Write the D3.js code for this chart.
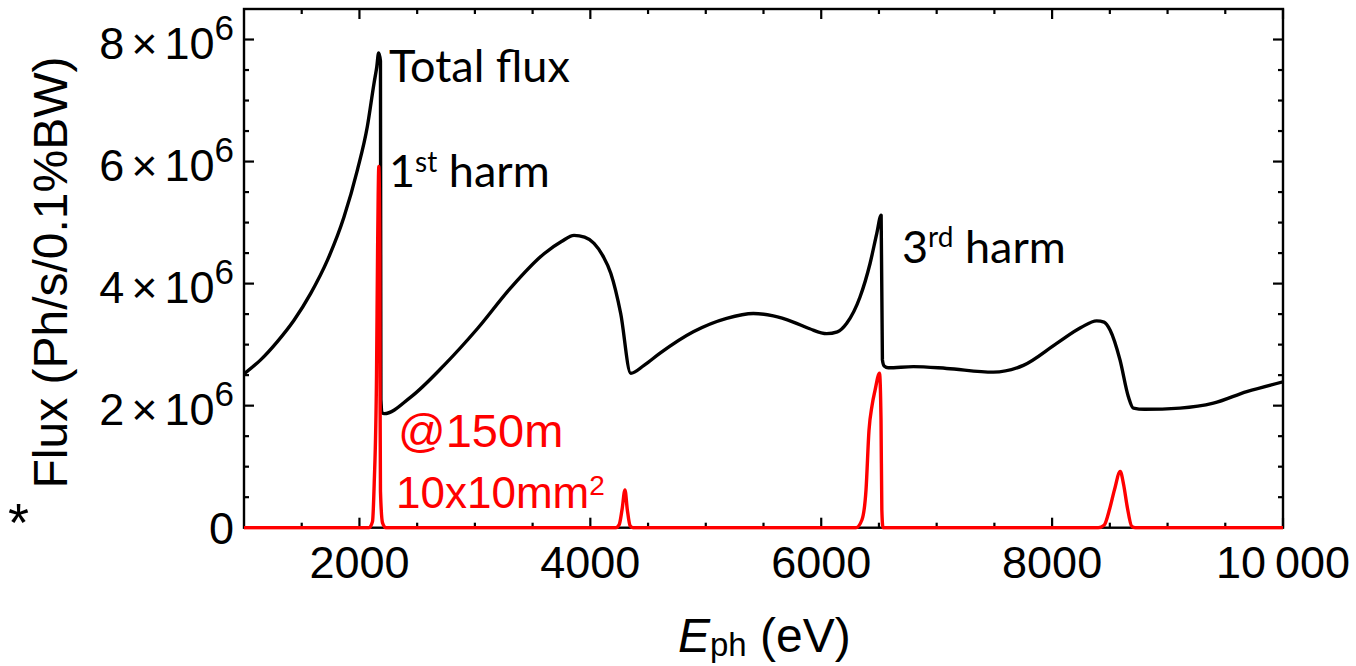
<!DOCTYPE html>
<html><head><meta charset="utf-8">
<script src="https://cdn.jsdelivr.net/npm/d3@7"></script>
<style>body{margin:0;background:#fff}svg{display:block}</style>
</head><body>
<svg id="c" width="1356" height="666"></svg>
<script>
// Photon energy (eV) and total flux (x 1e6 ph/s/0.1%BW)
const totalE = [1000,1144,1289,1433,1578,1722,1866,1982,2068,2126,2150,2166,2182,2186,2198,2213,2444,2732,3021,3310,3599,3750,3859,3950,4032,4110,4177,4263,4350,4465,4604,4892,5181,5412,5585,5758,5900,6047,6140,6221,6336,6423,6481,6519,6530,6545,6581,6798,7087,7491,7751,8040,8250,8386,8450,8502,8588,8660,8704,8800,9108,9397,9686,10000];
const totalF = [2.52,2.75,3.05,3.40,3.84,4.38,5.09,5.86,6.57,7.28,7.55,7.78,7.65,2.10,1.88,1.87,2.14,2.66,3.26,3.93,4.49,4.69,4.79,4.76,4.66,4.45,4.17,3.51,2.53,2.66,2.86,3.21,3.43,3.51,3.47,3.37,3.26,3.18,3.21,3.35,3.78,4.33,4.82,5.12,2.75,2.65,2.62,2.64,2.61,2.55,2.66,3.02,3.28,3.39,3.37,3.24,2.75,2.15,1.96,1.94,1.96,2.04,2.23,2.39];
// 1st-harmonic-window flux through 10x10 mm2 at 150 m (x 1e6)
const harmE = [1000,2083,2113,2128,2148,2157,2168,2177,2179,2182,2200,2230,4220,4250,4275,4300,4320,4345,4370,6301,6353,6388,6414,6440,6466,6505,6518,6525,6535,8400,8450,8500,8540,8590,8620,8650,8690,8720,10000];
const harmF = [0,0,0.10,0.73,2.50,4.50,5.92,4.50,2.00,0.60,0.08,0,0,0.05,0.30,0.62,0.30,0.03,0,0,0.13,0.62,1.60,2.00,2.25,2.53,1.76,0.30,0,0,0.04,0.32,0.62,0.92,0.70,0.35,0.02,0,0];

const xMajorTicks = [2000,4000,6000,8000,10000];
const xTickLabels = ["2000","4000","6000","8000","10\u2009000"];
const xMinorTicks = [1500,2500,3000,3500,4500,5000,5500,6500,7000,7500,8500,9000,9500];
const yMajorTicks = [0,2,4,6,8];
const yTickMantissas = ["0","2","4","6","8"];
const yTickExponent = "6";
const yMinorTicks = [0.5,1,1.5,2.5,3,3.5,4.5,5,5.5,6.5,7,7.5];

const L=244, R=1283, T=9, B=527.7;
const svg = d3.select("#c");
const x = d3.scaleLinear().domain([1000,10000]).range([L,R]);
const y = d3.scaleLinear().domain([0,8.5]).range([B,T]);

const sans = "'Liberation Sans', Arial, sans-serif";
const hum = "Lato, 'Open Sans', sans-serif";

svg.append("defs").append("clipPath").attr("id","clip")
  .append("rect").attr("x",L).attr("y",T-3).attr("width",R-L).attr("height",B-T+5);

const line = d3.line().x(d=>x(d[0])).y(d=>y(d[1])).curve(d3.curveMonotoneX);
const totalData = totalE.map((e,i)=>[e,totalF[i]]);
const harmData = harmE.map((e,i)=>[e,harmF[i]]);

function ticks(vals, size, side){
  const g = svg.append("g");
  vals.forEach(v=>{
    if(side==="bottom") g.append("line").attr("x1",x(v)).attr("x2",x(v)).attr("y1",B).attr("y2",B-size);
    if(side==="top") g.append("line").attr("x1",x(v)).attr("x2",x(v)).attr("y1",T).attr("y2",T+size);
    if(side==="left") g.append("line").attr("y1",y(v)).attr("y2",y(v)).attr("x1",L).attr("x2",L+size);
    if(side==="right") g.append("line").attr("y1",y(v)).attr("y2",y(v)).attr("x1",R).attr("x2",R-size);
  });
  g.selectAll("line").attr("stroke","#000").attr("stroke-width",2.2);
}
ticks(xMajorTicks,10,"bottom"); ticks(xMinorTicks,5,"bottom");
ticks(xMajorTicks,10,"top"); ticks(xMinorTicks,5,"top");
ticks(yMajorTicks,10,"left"); ticks(yMinorTicks,5,"left");
ticks(yMajorTicks,10,"right"); ticks(yMinorTicks,5,"right");

svg.append("rect").attr("x",L).attr("y",T).attr("width",R-L).attr("height",B-T)
  .attr("fill","none").attr("stroke","#000").attr("stroke-width",2.4);

const plot = svg.append("g").attr("clip-path","url(#clip)");
plot.append("path").datum(totalData).attr("d",line).attr("fill","none")
  .attr("stroke","#000").attr("stroke-width",3.4).attr("stroke-linejoin","round");
plot.append("path").datum(harmData).attr("d",line).attr("fill","none")
  .attr("stroke","#ff0000").attr("stroke-width",3.4).attr("stroke-linejoin","round");

xMajorTicks.forEach((v,i)=>{
  svg.append("text").attr("x",x(v)).attr("y",578).attr("text-anchor","middle")
    .attr("font-family",sans).attr("font-size",45).text(xTickLabels[i]);
});
yMajorTicks.forEach((v,i)=>{
  const t = svg.append("text").attr("x",234).attr("text-anchor","end")
    .attr("font-family",sans).attr("font-size",45);
  if(v===0){ t.attr("y",y(v)+16).text(yTickMantissas[i]); return; }
  t.attr("y",y(v)+19);
  t.append("tspan").text(yTickMantissas[i]);
  t.append("tspan").attr("dx",7).text("\u00d7");
  t.append("tspan").attr("dx",7).text("10");
  t.append("tspan").attr("font-size",35).attr("dy",-19).text(yTickExponent);
});

const xt = svg.append("text").attr("x",678).attr("y",652).attr("font-family",sans).attr("font-size",48);
xt.append("tspan").attr("font-style","italic").text("E");
xt.append("tspan").attr("font-size",33).attr("dy",4).text("ph");
xt.append("tspan").attr("dy",-4).text(" (eV)");

svg.append("text").attr("transform","translate(66.7,272.5) rotate(-90)")
  .attr("text-anchor","middle").attr("font-family",sans).attr("font-size",48)
  .text("Flux (Ph/s/0.1%BW)");
svg.append("text").attr("x",8).attr("y",541).attr("font-family",sans).attr("font-size",54).text("*");

svg.append("text").attr("x",389).attr("y",82).attr("font-family",hum).attr("font-size",45).text("Total flux");
const h1 = svg.append("text").attr("x",389).attr("y",187).attr("font-family",hum).attr("font-size",45);
h1.append("tspan").text("1");
h1.append("tspan").attr("font-size",28).attr("dy",-15).text("st");
h1.append("tspan").attr("dy",15).text(" harm");
const h3 = svg.append("text").attr("x",902).attr("y",263).attr("font-family",hum).attr("font-size",45);
h3.append("tspan").text("3");
h3.append("tspan").attr("font-size",28).attr("dy",-16).text("rd");
h3.append("tspan").attr("dy",16).text(" harm");

svg.append("text").attr("x",398).attr("y",447).attr("font-family",sans).attr("font-size",47)
  .attr("fill","#ff0000").text("@150m");
const a2 = svg.append("text").attr("x",396).attr("y",508).attr("font-family",sans).attr("font-size",44)
  .attr("fill","#ff0000");
a2.append("tspan").text("10x10mm");
a2.append("tspan").attr("font-size",28).attr("dy",-13).text("2");
</script>
</body></html>
